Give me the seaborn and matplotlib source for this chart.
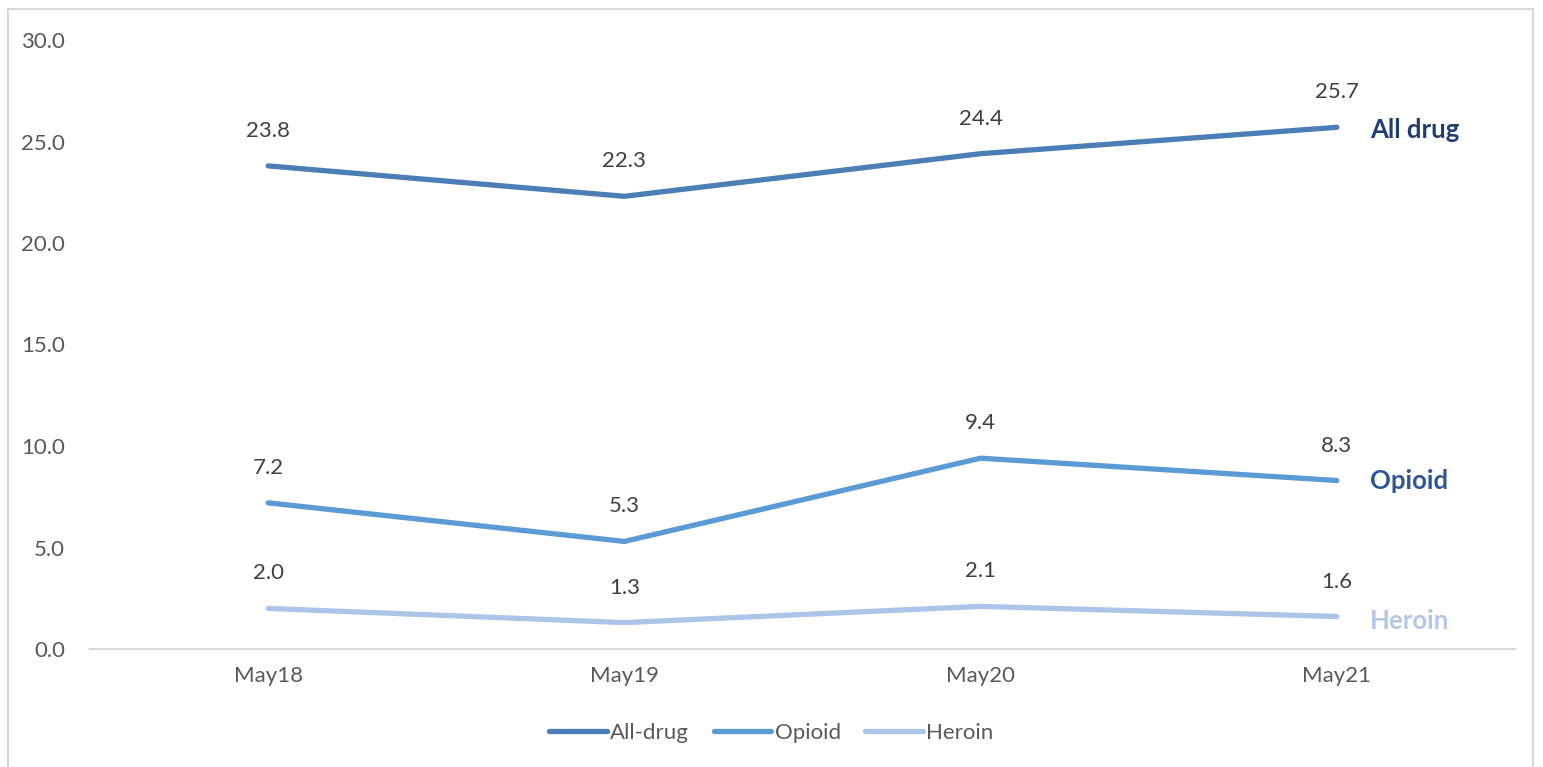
import pandas as pd
import matplotlib.pyplot as plt
import matplotlib.patches as mpatches
import seaborn as sns

sns.set_theme(style='white')
plt.rcParams['font.family'] = ['Lato', 'DejaVu Sans']

# data
periods = ['May18', 'May19', 'May20', 'May21']
all_drug = [23.8, 22.3, 24.4, 25.7]
opioid = [7.2, 5.3, 9.4, 8.3]
heroin = [2.0, 1.3, 2.1, 1.6]

series_names = ['All-drug', 'Opioid', 'Heroin']
end_labels = ['All drug', 'Opioid', 'Heroin']
line_colors = ['#4A7EB5', '#5B9BD5', '#AAC5E7']
label_colors = ['#1F3F73', '#2F5597', '#B4C7E7']

df = pd.DataFrame({
    'period': periods * 3,
    'x': list(range(len(periods))) * 3,
    'value': all_drug + opioid + heroin,
    'series': [s for s in series_names for _ in periods],
})

fig = plt.figure(figsize=(15.43, 7.67), dpi=100)
ax = fig.add_axes([90 / 1543, 118 / 767, 1425 / 1543, 609 / 767])

sns.lineplot(data=df, x='x', y='value', hue='series', hue_order=series_names,
             palette=line_colors, linewidth=3.8, ax=ax, legend=False,
             solid_capstyle='round')

# data labels above points
for vals in [all_drug, opioid, heroin]:
    for i, v in enumerate(vals):
        ax.annotate(f'{v:.1f}', (i, v), xytext=(0, 18), textcoords='offset points',
                    ha='center', va='bottom', fontsize=16, color='#404040')

# series names at the right end
offsets = [-2, 0, -3]
for vals, name, c, dy in zip([all_drug, opioid, heroin], end_labels, label_colors, offsets):
    ax.annotate(name, (len(periods) - 1, vals[-1]), xytext=(24, dy), textcoords='offset points',
                ha='left', va='center', fontsize=18.5, fontweight='bold', color=c)

ax.set_xlim(-0.5, len(periods) - 0.5)
ax.set_ylim(0, 30)
ax.set_yticks([0, 5, 10, 15, 20, 25, 30])
ax.set_yticklabels([f'{t:.1f}' for t in [0, 5, 10, 15, 20, 25, 30]])
ax.set_xticks(range(len(periods)))
ax.set_xticklabels(periods)
ax.tick_params(axis='both', labelsize=16, colors='#595959', length=0)
ax.tick_params(axis='y', pad=18)
ax.tick_params(axis='x', pad=12)
ax.set_xlabel('')
ax.set_ylabel('')
for s in ['top', 'right', 'left']:
    ax.spines[s].set_visible(False)
ax.spines['bottom'].set_color('#D9D9D9')
ax.spines['bottom'].set_linewidth(1.5)
ax.grid(False)

handles = [plt.Line2D([], [], color=c, linewidth=3.8, solid_capstyle='round') for c in line_colors]
leg = fig.legend(handles, series_names, loc='center', bbox_to_anchor=(0.5, 1 - 733 / 767),
                 ncol=3, frameon=False, fontsize=16, handlelength=2.6, handletextpad=0.15,
                 columnspacing=1.1)
for t in leg.get_texts():
    t.set_color('#595959')

# chart border
fig.patches.append(mpatches.Rectangle((8 / 1543, -0.02), 1525 / 1543, 1 - 9 / 767 + 0.02,
                                      transform=fig.transFigure, fill=False,
                                      edgecolor='#D9D9D9', linewidth=1.5))

fig.savefig('out.png', dpi=100)
